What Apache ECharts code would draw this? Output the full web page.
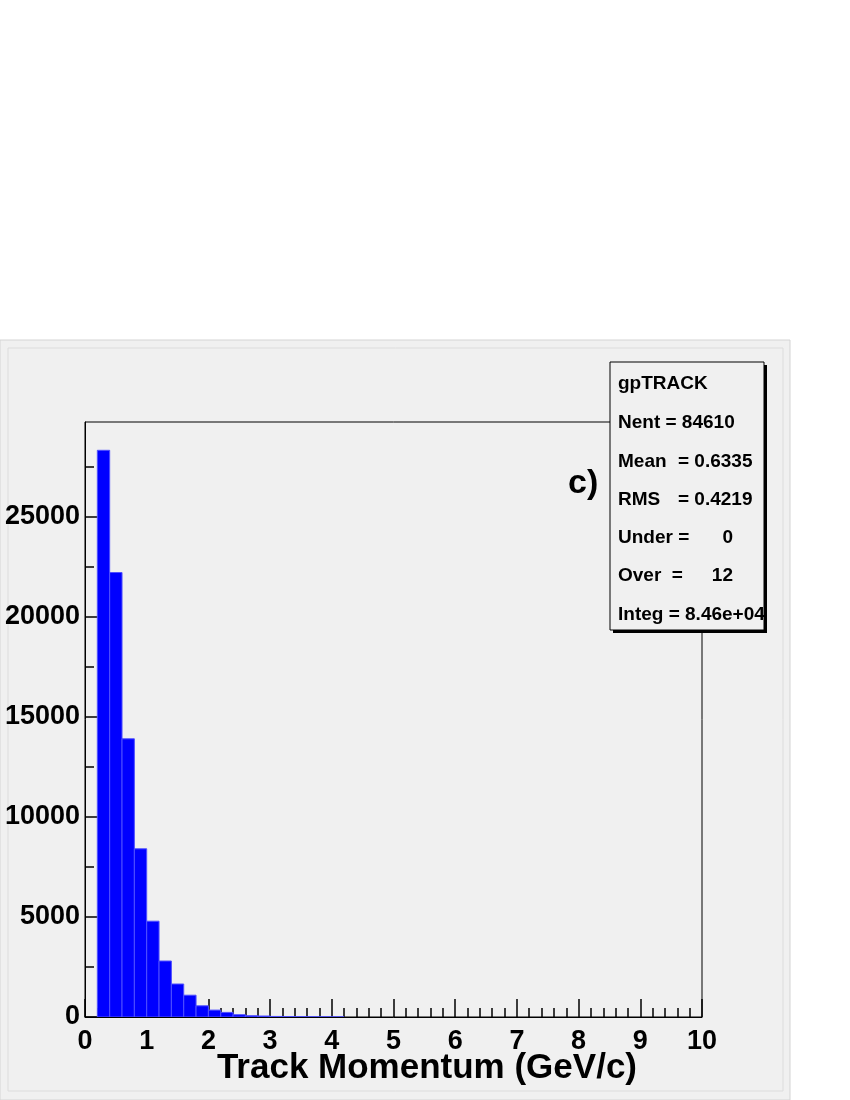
<!DOCTYPE html>
<html>
<head>
<meta charset="utf-8">
<script src="https://cdn.jsdelivr.net/npm/echarts@6.0.0/dist/echarts.min.js"></script>
<style>
  html, body { margin: 0; padding: 0; background: #fff; }
  #main { width: 850px; height: 1100px; }
</style>
</head>
<body>
<div id="main"></div>
<script>
// histogram bins (lower edge, upper edge) and counts
var binLow  = [0.2, 0.4, 0.6, 0.8, 1.0, 1.2, 1.4, 1.6, 1.8, 2.0, 2.2, 2.4, 2.6, 2.8, 3.0, 3.2, 3.4, 3.6, 3.8, 4.0];
var binHigh = [0.4, 0.6, 0.8, 1.0, 1.2, 1.4, 1.6, 1.8, 2.0, 2.2, 2.4, 2.6, 2.8, 3.0, 3.2, 3.4, 3.6, 3.8, 4.0, 4.2];
var counts  = [28335, 22225, 13910, 8410, 4790, 2800, 1650, 1090, 560, 345, 230, 115, 65, 50, 28, 20, 14, 10, 7, 5];

var yMajorTicks = [0, 5000, 10000, 15000, 20000, 25000];
var yMinorTicks = [2500, 7500, 12500, 17500, 22500, 27500];

var statsLabels = ['Nent =', 'Mean', 'RMS', 'Under =', 'Over  =', 'Integ ='];
var statsValues = ['84610', '0.6335', '0.4219', '0', '12', '8.46e+04'];

var font = '"Liberation Sans", Arial, Helvetica, sans-serif';
var statFont = 'bold 19px ' + font;

var histData = binLow.map(function (lo, i) {
    return [lo, binHigh[i], counts[i]];
});

var myChart = echarts.init(document.getElementById('main'));

// stats box
var statsGraphics = [
    { type: 'rect', shape: { x: 613, y: 365, width: 154, height: 268 }, style: { fill: '#000' }, z: 100 },
    { type: 'rect', shape: { x: 610, y: 362, width: 154, height: 268 }, style: { fill: '#f0f0f0', stroke: '#000', lineWidth: 1 }, z: 101 },
    { type: 'text', x: 618, y: 384, style: { text: 'gpTRACK', font: statFont, fill: '#000', verticalAlign: 'middle' }, z: 102 }
];
statsLabels.forEach(function (lab, i) {
    var yy = 423 + i * 38.3;
    if (i === 0 || i === 5) {
        statsGraphics.push({ type: 'text', x: 618, y: yy, z: 102,
            style: { text: lab + ' ' + statsValues[i], font: statFont, fill: '#000', verticalAlign: 'middle' } });
    } else if (i < 3) {
        statsGraphics.push({ type: 'text', x: 618, y: yy, z: 102,
            style: { text: lab, font: statFont, fill: '#000', verticalAlign: 'middle' } });
        statsGraphics.push({ type: 'text', x: 678, y: yy, z: 102,
            style: { text: '= ' + statsValues[i], font: statFont, fill: '#000', verticalAlign: 'middle' } });
    } else {
        statsGraphics.push({ type: 'text', x: 618, y: yy, z: 102,
            style: { text: lab, font: statFont, fill: '#000', verticalAlign: 'middle' } });
        statsGraphics.push({ type: 'text', x: 733, y: yy, z: 102,
            style: { text: statsValues[i], font: statFont, fill: '#000', align: 'right', verticalAlign: 'middle' } });
    }
});

var option = {
    backgroundColor: '#ffffff',
    animation: false,
    graphic: [
        { type: 'rect', shape: { x: 0, y: 340, width: 790, height: 760 }, style: { fill: '#f0f0f0', stroke: '#d4d4d4', lineWidth: 1 }, z: -10 },
        { type: 'rect', shape: { x: 8, y: 348, width: 775, height: 743 }, style: { fill: 'none', stroke: '#dcdcdc', lineWidth: 1 }, z: -9 },
        { type: 'text', x: 568, y: 484, style: { text: 'c)', font: 'bold 34px ' + font, fill: '#000', verticalAlign: 'middle' }, z: 50 },
        { type: 'text', x: 637, y: 1068, style: { text: 'Track Momentum (GeV/c)', font: 'bold 35px ' + font, fill: '#000', align: 'right', verticalAlign: 'middle' }, z: 50 }
    ].concat(statsGraphics),
    grid: {
        left: 85, top: 422, width: 617, height: 595,
        outerBoundsMode: 'none', containLabel: false,
        show: true, backgroundColor: '#f0f0f0', borderColor: '#000', borderWidth: 1
    },
    xAxis: {
        type: 'value', min: 0, max: 10, interval: 1,
        axisLine: { show: true, onZero: false, lineStyle: { color: '#000', width: 1 } },
        axisTick: { show: true, inside: true, length: 18, lineStyle: { color: '#000', width: 1.5 } },
        minorTick: { show: true, splitNumber: 5, length: 9, lineStyle: { color: '#000', width: 1.5 } },
        axisLabel: { margin: 11, color: '#000', fontFamily: font, fontWeight: 'bold', fontSize: 27 },
        splitLine: { show: false }
    },
    yAxis: [
        {
            type: 'value', min: 0, max: 29750, position: 'left',
            axisLine: { show: true, lineStyle: { color: '#000', width: 1 } },
            axisTick: { show: true, inside: true, length: 18, customValues: yMajorTicks, lineStyle: { color: '#000', width: 1.5 } },
            axisLabel: {
                margin: 5, customValues: yMajorTicks, color: '#000', fontFamily: font, fontWeight: 'bold', fontSize: 27,
                formatter: function (v) { return String(v); }
            },
            splitLine: { show: false }
        },
        {
            type: 'value', min: 0, max: 29750, position: 'left', offset: 0,
            axisLine: { show: false },
            axisTick: { show: true, inside: true, length: 9, customValues: yMinorTicks, lineStyle: { color: '#000', width: 1.5 } },
            axisLabel: { show: false },
            splitLine: { show: false }
        }
    ],
    series: [
        {
            name: 'gpTRACK',
            type: 'custom',
            clip: true,
            encode: { x: [0, 1], y: 2 },
            data: histData,
            renderItem: function (params, api) {
                var p0 = api.coord([api.value(0), api.value(2)]);
                var p1 = api.coord([api.value(1), 0]);
                return {
                    type: 'rect',
                    shape: { x: p0[0], y: p0[1], width: p1[0] - p0[0], height: p1[1] - p0[1] },
                    style: { fill: '#0000ff', stroke: '#5050ff', lineWidth: 1 }
                };
            },
            z: 2
        }
    ]
};
myChart.setOption(option);
</script>
</body>
</html>
